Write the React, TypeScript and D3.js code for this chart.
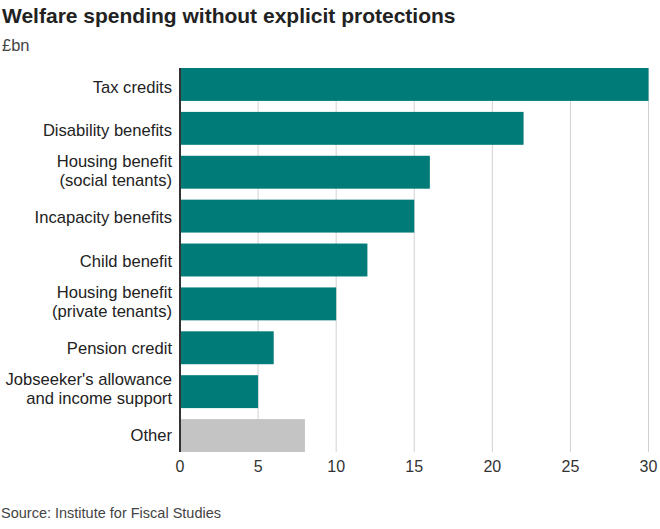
import React from "react";
import * as d3 from "d3";

const categories: string[][] = [
  ["Tax credits"],
  ["Disability benefits"],
  ["Housing benefit", "(social tenants)"],
  ["Incapacity benefits"],
  ["Child benefit"],
  ["Housing benefit", "(private tenants)"],
  ["Pension credit"],
  ["Jobseeker's allowance", "and income support"],
  ["Other"],
];
const values: number[] = [30, 22, 16, 15, 12, 10, 6, 5, 8];
const ticks: number[] = [0, 5, 10, 15, 20, 25, 30];

const W = 660;
const H = 529;
const FONT = "'Liberation Sans', Arial, Helvetica, sans-serif";

export default function App() {
  const x = d3.scaleLinear().domain([0, 30]).range([180, 648.5]);
  const idx = d3.range(categories.length);
  const y = d3
    .scaleBand<number>()
    .domain(idx)
    .range([68, 452])
    .paddingInner(0.25)
    .paddingOuter(0);
  const labelY = d3.scalePoint<number>().domain(idx).range([93, 440.5]);
  const teal = "#007b78";
  const gray = "#c4c4c4";
  return (
    <svg
      width={W}
      height={H}
      style={{ position: "absolute", left: 0, top: 0, background: "#fff" }}
      fontFamily={FONT}
    >
      <text x={2} y={23} fontSize={21} fontWeight="bold" fill="#222">
        Welfare spending without explicit protections
      </text>
      <text x={2} y={51} fontSize={16.5} fill="#444">
        £bn
      </text>
      {ticks.map((t) => (
        <g key={t}>
          {t > 0 && (
            <line x1={x(t)} x2={x(t)} y1={68} y2={452} stroke="#d2d2d2" strokeWidth={1} />
          )}
          <text x={x(t)} y={472} fontSize={16} textAnchor="middle" fill="#333">
            {t}
          </text>
        </g>
      ))}
      {values.map((v, i) => (
        <rect
          key={i}
          x={x(0)}
          y={y(i)!}
          width={x(v) - x(0)}
          height={y.bandwidth()}
          fill={i === values.length - 1 ? gray : teal}
        />
      ))}
      {categories.map((lines, i) => {
        const base = labelY(i)!;
        return (
          <text key={i} x={172} fontSize={16.6} textAnchor="end" fill="#222">
            {lines.map((l, j) => (
              <tspan
                key={j}
                x={172}
                y={lines.length === 1 ? base : base - 12.5 + j * 19}
              >
                {l}
              </tspan>
            ))}
          </text>
        );
      })}
      <line x1={x(0)} x2={x(0)} y1={68} y2={452} stroke="#333" strokeWidth={2} />
      <text x={1} y={518} fontSize={14.5} fill="#444">
        Source: Institute for Fiscal Studies
      </text>
    </svg>
  );
}
